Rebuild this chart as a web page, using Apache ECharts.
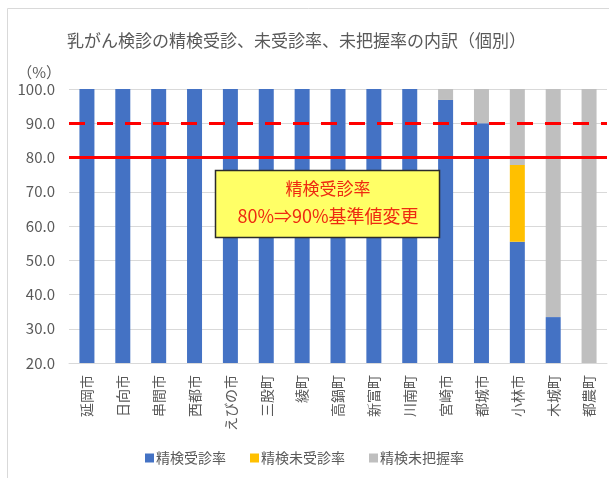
<!DOCTYPE html>
<html>
<head>
<meta charset="utf-8">
<script src="https://cdn.jsdelivr.net/npm/echarts@6/dist/echarts.min.js"></script>
<style>
  html, body { margin: 0; padding: 0; background: #fff; }
  #chart { width: 609px; height: 478px; }
</style>
</head>
<body>
<div id="chart"></div>
<script>
// 市町村
var cities = ['延岡市', '日向市', '串間市', '西都市', 'えびの市', '三股町', '綾町', '高鍋町', '新富町', '川南町', '宮崎市', '都城市', '小林市', '木城町', '都農町'];
// 精検受診率
var jushin = [100, 100, 100, 100, 100, 100, 100, 100, 100, 100, 96.8, 90.0, 55.4, 33.4, 0];
// 精検未受診率
var mijushin = [0, 0, 0, 0, 0, 0, 0, 0, 0, 0, 0, 0, 22.4, 0, 0];
// 精検未把握率
var mihaaku = [0, 0, 0, 0, 0, 0, 0, 0, 0, 0, 3.2, 10.0, 22.2, 66.6, 100];
// 基準値
var oldStd = 80;
var newStd = 90;

var font = '"Noto Sans CJK JP", sans-serif';
var textGray = '#595959';
var noteRed = '#EE2A10';

var chart = echarts.init(document.getElementById('chart'));

chart.setOption({
  animation: false,
  textStyle: { fontFamily: font },
  title: {
    text: '乳がん検診の精検受診、未受診率、未把握率の内訳（個別）',
    left: 62,
    top: 27,
    textStyle: { color: textGray, fontSize: 17, fontWeight: 'normal', fontFamily: font }
  },
  legend: {
    bottom: 8,
    left: 140,
    itemWidth: 9,
    itemHeight: 9,
    itemGap: 24,
    icon: 'rect',
    textStyle: { color: textGray, fontSize: 14, fontFamily: font, padding: [0, 0, 0, -3] },
    data: ['精検受診率', '精検未受診率', '精検未把握率']
  },
  grid: { left: 69, right: 2, top: 89, bottom: 115 },
  xAxis: {
    type: 'category',
    data: cities,
    axisTick: { show: false },
    axisLine: { lineStyle: { color: '#d9d9d9', width: 1 } },
    axisLabel: { rotate: 90, color: textGray, fontSize: 14, margin: 12, fontFamily: font }
  },
  yAxis: {
    type: 'value',
    min: 20,
    max: 100,
    interval: 10,
    name: '（%）',
    nameLocation: 'end',
    nameGap: 9,
    nameTextStyle: { color: textGray, fontSize: 15, align: 'right', padding: [0, 8, 0, 0] },
    axisLabel: {
      color: textGray,
      fontSize: 15,
      margin: 14,
      formatter: function (v) { return v.toFixed(1); }
    },
    splitLine: { lineStyle: { color: '#d9d9d9' } },
    axisLine: { show: false },
    axisTick: { show: false }
  },
  series: [
    {
      name: '精検受診率', type: 'bar', stack: 'total', barWidth: 15,
      itemStyle: { color: '#4472C4' }, data: jushin,
      markLine: {
        silent: true,
        symbol: 'none',
        label: { show: false },
        data: [
          { yAxis: newStd, lineStyle: { color: '#FF0000', width: 3, type: [16, 12] } },
          { yAxis: oldStd, lineStyle: { color: '#FF0000', width: 3, type: 'solid' } }
        ]
      }
    },
    {
      name: '精検未受診率', type: 'bar', stack: 'total', barWidth: 15,
      itemStyle: { color: '#FFC000' }, data: mijushin
    },
    {
      name: '精検未把握率', type: 'bar', stack: 'total', barWidth: 15,
      itemStyle: { color: '#BFBFBF' }, data: mihaaku
    }
  ],
  graphic: [
    {
      type: 'rect', silent: true, z: -1,
      shape: { x: 7.5, y: 8.5, width: 640, height: 500 },
      style: { fill: 'none', stroke: '#d9d9d9', lineWidth: 1 }
    },
    {
      type: 'rect', z: 100, zlevel: 1,
      shape: { x: 215.5, y: 170.5, width: 224, height: 67 },
      style: { fill: '#FFFF66', stroke: '#2b2b2b', lineWidth: 1.5 }
    },
    {
      type: 'text', z: 101, zlevel: 1,
      style: {
        x: 328, y: 189, text: '精検受診率', fill: noteRed,
        font: '17px ' + font, align: 'center', verticalAlign: 'middle'
      }
    },
    {
      type: 'text', z: 101, zlevel: 1,
      style: {
        x: 328, y: 216, text: '80%⇒90%基準値変更', fill: noteRed,
        font: '18px ' + font, align: 'center', verticalAlign: 'middle'
      }
    }
  ]
});
</script>
</body>
</html>
